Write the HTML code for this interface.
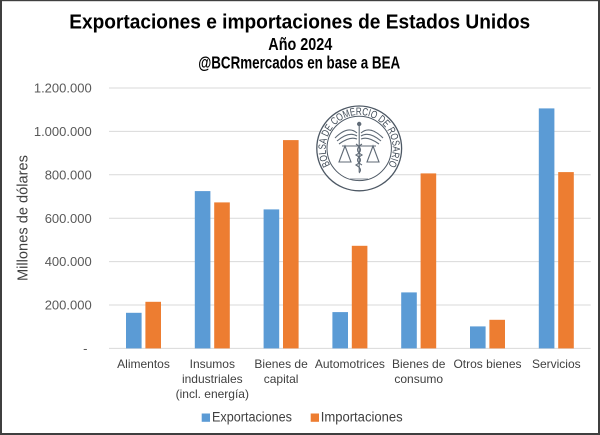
<!DOCTYPE html>
<html><head><meta charset="utf-8">
<style>
html,body{margin:0;padding:0;background:#fff;}
svg{display:block;}
text{font-family:"Liberation Sans",Arial,sans-serif;}
</style></head>
<body>
<svg width="600" height="435" viewBox="0 0 600 435" xmlns="http://www.w3.org/2000/svg">
<rect x="0" y="0" width="600" height="435" fill="#fff"/>
<!-- Titles -->
<text x="299.7" y="28.3" font-size="20.5" font-weight="bold" fill="#000" text-anchor="middle" textLength="461" lengthAdjust="spacingAndGlyphs">Exportaciones e importaciones de Estados Unidos</text>
<text x="300.3" y="50" font-size="17.5" font-weight="bold" fill="#000" text-anchor="middle" textLength="64" lengthAdjust="spacingAndGlyphs">Año 2024</text>
<text x="299.2" y="68.3" font-size="17.5" font-weight="bold" fill="#000" text-anchor="middle" textLength="202" lengthAdjust="spacingAndGlyphs">@BCRmercados en base a BEA</text>

<!-- gridlines -->
<g stroke="#d9d9d9" stroke-width="1">
<line x1="109" y1="88" x2="590.7" y2="88"/>
<line x1="109" y1="131.4" x2="590.7" y2="131.4"/>
<line x1="109" y1="174.8" x2="590.7" y2="174.8"/>
<line x1="109" y1="218.2" x2="590.7" y2="218.2"/>
<line x1="109" y1="261.6" x2="590.7" y2="261.6"/>
<line x1="109" y1="305" x2="590.7" y2="305"/>
<line x1="109" y1="348.4" x2="590.7" y2="348.4"/>
</g>

<!-- y tick labels -->
<g font-size="13" fill="#595959" text-anchor="end">
<text x="91.7" y="92.6">1.200.000</text>
<text x="91.7" y="136">1.000.000</text>
<text x="91.7" y="179.4">800.000</text>
<text x="91.7" y="222.8">600.000</text>
<text x="91.7" y="266.2">400.000</text>
<text x="91.7" y="309.6">200.000</text>
<text x="87.5" y="353">-</text>
</g>

<!-- y axis title -->
<text transform="translate(27.3,218) rotate(-90)" font-size="14.5" fill="#404040" text-anchor="middle" textLength="126" lengthAdjust="spacingAndGlyphs">Millones de dólares</text>

<!-- logo -->
<g>
<circle cx="359.2" cy="148.4" r="42.4" fill="#fff" stroke="#4d5864" stroke-width="1.3"/>
<circle cx="359.2" cy="148.4" r="32.2" fill="#fff" stroke="#4d5864" stroke-width="1"/>
<defs>
<path id="arc" d="M 330.2 165.15 A 33.5 33.5 0 1 1 388.2 165.15"/>
</defs>
<text font-size="10.5" fill="#3f4a56"><textPath href="#arc" startOffset="0" textLength="140" lengthAdjust="spacingAndGlyphs">BOLSA DE COMERCIO DE ROSARIO</textPath></text>
<!-- emblem -->
<g stroke="#5f6a76" stroke-width="1.1" fill="none">
<path d="M335 138 Q348 125 357 133"/>
<path d="M337 141 Q349 131 357 136"/>
<path d="M339 144 Q350 136 357 139"/>
<path d="M383 138 Q370 125 361 133"/>
<path d="M381 141 Q369 131 361 136"/>
<path d="M379 144 Q368 136 361 139"/>
<line x1="359.2" y1="124" x2="359.2" y2="172"/>
<line x1="342" y1="146" x2="376" y2="146"/>
<path d="M345 146 L339 162 L351 162 Z"/>
<path d="M373 146 L367 162 L379 162 Z"/>
<path d="M356 144 Q365 150 356 155 Q365 160 356 165 Q363 169 359 173"/>
<path d="M362 144 Q353 150 362 155 Q353 160 362 165"/>
<line x1="350" y1="179" x2="368" y2="179" stroke-width="0.7"/>
</g>
<circle cx="359.2" cy="124" r="2.2" fill="#5f6a76"/>
</g>

<!-- bars -->
<g fill="#5b9bd5">
<rect x="126" y="312.8" width="15.6" height="35.6"/>
<rect x="194.8" y="191.1" width="15.6" height="157.3"/>
<rect x="263.6" y="209.4" width="15.6" height="139"/>
<rect x="332.4" y="312.1" width="15.6" height="36.3"/>
<rect x="401.2" y="292.4" width="15.6" height="56"/>
<rect x="470" y="326.4" width="15.6" height="22"/>
<rect x="538.8" y="108.4" width="15.6" height="240"/>
</g>
<g fill="#ed7d31">
<rect x="145.4" y="301.8" width="15.6" height="46.6"/>
<rect x="214.2" y="202.4" width="15.6" height="146"/>
<rect x="283" y="140.1" width="15.6" height="208.3"/>
<rect x="351.8" y="245.8" width="15.6" height="102.6"/>
<rect x="420.6" y="173.4" width="15.6" height="175"/>
<rect x="489.4" y="319.8" width="15.6" height="28.6"/>
<rect x="558.2" y="172.1" width="15.6" height="176.3"/>
</g>

<!-- category labels -->
<g font-size="12" fill="#404040" text-anchor="middle">
<text x="143.5" y="368">Alimentos</text>
<text x="212.3" y="368">Insumos</text>
<text x="212.3" y="383">industriales</text>
<text x="212.3" y="398">(incl. energía)</text>
<text x="281.1" y="368">Bienes de</text>
<text x="281.1" y="383">capital</text>
<text x="349.9" y="368">Automotrices</text>
<text x="418.7" y="368">Bienes de</text>
<text x="418.7" y="383">consumo</text>
<text x="487.5" y="368">Otros bienes</text>
<text x="556.3" y="368">Servicios</text>
</g>

<!-- legend -->
<rect x="201.7" y="413.5" width="8.3" height="8.3" fill="#5b9bd5"/>
<text x="212" y="421.7" font-size="13.5" fill="#404040" textLength="80" lengthAdjust="spacingAndGlyphs">Exportaciones</text>
<rect x="310.7" y="413.5" width="8.3" height="8.3" fill="#ed7d31"/>
<text x="320.7" y="421.7" font-size="13.5" fill="#404040" textLength="82" lengthAdjust="spacingAndGlyphs">Importaciones</text>

<!-- border -->
<rect x="0" y="0" width="2" height="435" fill="#3f3f3f"/>
<rect x="0" y="0" width="600" height="1.2" fill="#3f3f3f"/>
<rect x="598" y="0" width="2" height="435" fill="#3f3f3f"/>
<rect x="0" y="433" width="600" height="2" fill="#3f3f3f"/>
</svg>
</body></html>
